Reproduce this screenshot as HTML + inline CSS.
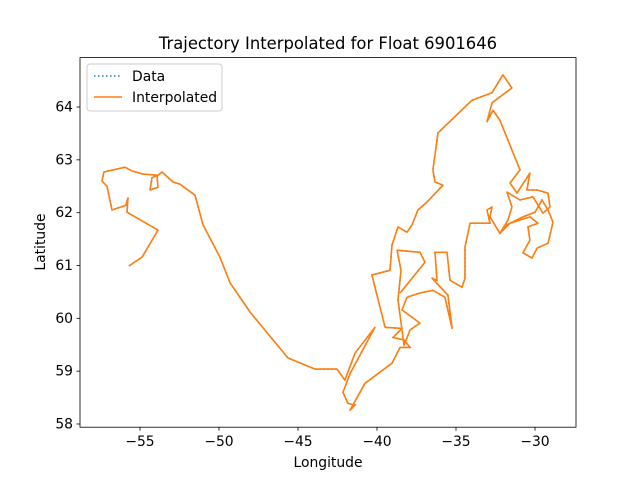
<!DOCTYPE html>
<html><head><meta charset="utf-8"><style>
body{margin:0;background:#fff}
svg{display:block;font-family:"DejaVu Sans","Liberation Sans",sans-serif}
</style></head><body>
<svg id="chart" width="640" height="480">
<rect width="640" height="480" fill="#fff"/>
<text x="328" y="49" text-anchor="middle" font-size="16.4">Trajectory Interpolated for Float 6901646</text>
<g id="series"></g>
<g id="axes"></g>
<rect x="80" y="57.6" width="496" height="369.6" fill="none" stroke="#000" stroke-width="0.8"/>
<text x="328" y="467" text-anchor="middle" font-size="13.9">Longitude</text>
<text transform="translate(45,242) rotate(-90)" text-anchor="middle" font-size="13.9">Latitude</text>
<g>
<rect x="87" y="64" width="135" height="47" rx="3" fill="#fff" stroke="#ccc" stroke-width="1"/>
<line x1="94" y1="76" x2="122" y2="76" stroke="#1f77b4" stroke-width="1.5" stroke-dasharray="1.5,2.5"/>
<text x="132" y="81" font-size="13.9">Data</text>
<line x1="94" y1="97" x2="122" y2="97" stroke="#ff7f0e" stroke-width="1.5"/>
<text x="132" y="102" font-size="13.9">Interpolated</text>
</g>
</svg>
<script>
const lons=[-55.70,-54.87,-53.86,-55.82,-55.76,-55.89,-56.77,-57.09,-57.41,-57.28,-55.95,-55.51,-54.81,-53.92,-54.24,-54.37,-53.86,-53.92,-53.61,-52.91,-52.47,-51.52,-51.01,-49.94,-49.30,-48.04,-45.63,-43.92,-42.53,-42.03,-41.39,-40.13,-41.71,-42.15,-41.84,-41.39,-41.71,-40.76,-39.05,-38.54,-37.91,-38.29,-38.99,-38.42,-39.49,-40.32,-39.18,-39.05,-38.67,-38.10,-37.78,-37.41,-36.84,-35.82,-36.33,-36.46,-36.14,-33.99,-32.72,-32.03,-31.46,-32.72,-33.04,-32.66,-32.22,-30.95,-31.58,-31.14,-30.32,-30.51,-29.87,-29.18,-29.05,-29.49,-30.13,-30.95,-31.77,-31.46,-31.71,-32.22,-31.58,-30.32,-29.81,-30.44,-30.32,-30.76,-30.19,-29.87,-29.18,-28.86,-29.18,-29.56,-30.00,-30.76,-31.77,-32.22,-32.85,-32.72,-33.04,-32.85,-34.11,-34.43,-34.43,-34.62,-35.38,-35.57,-36.33,-36.20,-36.52,-35.51,-35.25,-35.70,-36.46,-37.28,-38.10,-38.42,-37.28,-37.91,-38.29,-38.67,-38.48,-38.73,-37.28,-36.96,-38.54];
const lats=[60.99,61.16,61.67,62.01,62.28,62.14,62.05,62.50,62.60,62.77,62.86,62.79,62.73,62.71,62.66,62.43,62.48,62.69,62.77,62.58,62.54,62.33,61.77,61.16,60.67,60.12,59.25,59.04,59.04,58.83,59.34,59.83,58.95,58.60,58.39,58.36,58.26,58.77,59.15,59.45,59.45,59.59,59.64,59.81,59.83,60.82,60.91,61.39,61.73,61.63,61.77,62.05,62.20,62.52,62.58,62.81,63.51,64.13,64.27,64.61,64.36,64.08,63.72,63.94,63.75,62.81,62.56,62.37,62.75,62.43,62.43,62.37,62.11,61.99,62.30,62.24,62.39,62.11,61.86,61.61,61.80,61.92,61.80,61.73,61.48,61.24,61.14,61.33,61.42,61.82,62.05,62.24,62.01,61.92,61.77,61.61,61.92,62.11,62.05,61.80,61.80,61.35,60.76,60.59,60.72,61.25,61.25,60.72,60.76,60.44,59.81,60.40,60.53,60.48,60.40,60.16,59.91,59.78,59.49,60.35,60.91,61.29,61.25,61.06,60.48];
const xTicks=[-55,-50,-45,-40,-35,-30];
const yTicks=[58,59,60,61,62,63,64];
const NS='http://www.w3.org/2000/svg';
function xs(v){return 140+(v+55)*15.8;}
function ys(v){return 424-(v-58)*52.83;}
const series=document.getElementById('series');
const axes=document.getElementById('axes');
let pts=lons.map((v,i)=>xs(v).toFixed(1)+','+ys(lats[i]).toFixed(1)).join(' ');
const dl=document.createElementNS(NS,'polyline');


dl.setAttribute('points',pts);dl.setAttribute('fill','none');dl.setAttribute('stroke','#1f77b4');dl.setAttribute('stroke-width','1.5');dl.setAttribute('stroke-dasharray','1.5,2.5');
series.appendChild(dl);
const il=document.createElementNS(NS,'polyline');


il.setAttribute('points',pts);il.setAttribute('fill','none');il.setAttribute('stroke','#ff7f0e');il.setAttribute('stroke-width','1.6');il.setAttribute('stroke-linejoin','round');
series.appendChild(il);
xTicks.forEach(t=>{
 const x=xs(t);
 const l=document.createElementNS(NS,'line');
 
 
 l.setAttribute('x1',x);l.setAttribute('x2',x);l.setAttribute('y1',427.2);l.setAttribute('y2',430.7);l.setAttribute('stroke','#000');l.setAttribute('stroke-width','0.8');
 axes.appendChild(l);
 const tx=document.createElementNS(NS,'text');
 
 
 tx.setAttribute('x',x);tx.setAttribute('y',446);tx.setAttribute('text-anchor','middle');tx.setAttribute('font-size','13.9');
 tx.textContent=(t<0?'\u2212'+(-t):t);
 axes.appendChild(tx);
});
yTicks.forEach(t=>{
 const y=ys(t);
 const l=document.createElementNS(NS,'line');
 
 
 l.setAttribute('x1',76.5);l.setAttribute('x2',80);l.setAttribute('y1',y);l.setAttribute('y2',y);l.setAttribute('stroke','#000');l.setAttribute('stroke-width','0.8');
 axes.appendChild(l);
 const tx=document.createElementNS(NS,'text');
 
 
 tx.setAttribute('x',73);tx.setAttribute('y',y+4.5);tx.setAttribute('text-anchor','end');tx.setAttribute('font-size','13.9');
 tx.textContent=t;
 axes.appendChild(tx);
});
</script>
</body></html>
